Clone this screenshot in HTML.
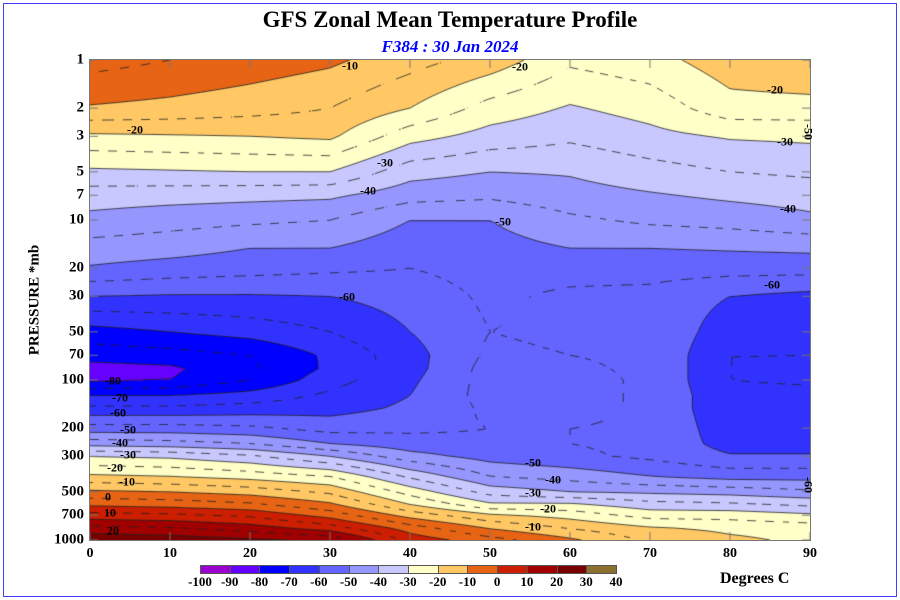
<!DOCTYPE html>
<html><head><meta charset="utf-8"><style>
body{margin:0;background:#fff;font-family:"Liberation Serif",serif}
#wrap{position:relative;width:900px;height:600px;overflow:hidden;background:#fff}
.t{position:absolute;white-space:nowrap;font-weight:bold}
.lab{position:absolute;font:bold 12px "Liberation Serif",serif;color:#000;transform:translate(-50%,-50%);white-space:nowrap}
.yl{position:absolute;font:bold 15px "Liberation Serif",serif;transform:translate(-100%,-50%);white-space:nowrap}
.xl{position:absolute;font:bold 14px "Liberation Serif",serif;transform:translateX(-50%);white-space:nowrap}
.cl{position:absolute;font:bold 13px "Liberation Serif",serif;transform:translateX(-50%);white-space:nowrap}
</style></head><body>
<div id="wrap">
<div style="position:absolute;left:3px;top:3px;width:892px;height:592px;border:1px solid #4040ff"></div>
<div class="t" style="left:0;width:900px;text-align:center;top:7px;font-size:23px">GFS Zonal Mean Temperature Profile</div>
<div class="t" style="left:0;width:900px;text-align:center;top:37px;font-size:17px;color:#0000ff;font-style:italic">F384 : 30 Jan 2024</div>
<div class="t" style="left:35px;top:300px;font-size:15px;transform:translate(-50%,-50%) rotate(-90deg)">PRESSURE *mb</div>
<canvas id="cv" width="720" height="480" style="position:absolute;left:90px;top:60px"></canvas>
<div style="position:absolute;left:89px;top:59px;width:720px;height:480px;border:1px solid #777"></div>
<div class="t" style="left:720px;top:570px;font-size:16px">Degrees C</div>
</div>
<script>
const lats=[0,10,20,30,40,50,60,70,80,90];
const levels=[1,2,3,5,7,10,15,20,30,50,70,85,100,125,150,200,250,300,400,500,600,700,850,1000];
const temps=[
[-3,-5,-7,-9,-13,-17,-24,-22,-17,-15],
[-10.5,-11.5,-13,-15,-20,-27,-30.5,-28,-22,-22],
[-21,-20.5,-20,-19,-28,-32,-34,-31.5,-29.5,-29],
[-31,-30.5,-30,-30,-38,-40,-39.5,-37,-35,-34],
[-37.5,-38,-38.5,-39,-43,-44,-42,-40.5,-39,-38],
[-41.5,-43,-44,-45,-50,-50,-46,-44,-43,-41],
[-47,-48,-50,-50,-53,-52,-50,-50,-49.5,-49],
[-50.5,-52,-53,-54,-55,-53,-53,-53,-53,-53],
[-60,-60.5,-60.5,-60,-58,-54,-56,-56.5,-60,-61.5],
[-72,-70,-68,-65,-60,-55,-56,-55.5,-63,-64],
[-78,-77,-75,-69,-62,-54,-55,-55.5,-65,-65],
[-82,-81,-76,-69,-62,-53,-54.5,-55.5,-65,-65.5],
[-81,-80,-75,-67,-61,-53,-54,-55.5,-65,-65.5],
[-70,-70,-68,-64,-60,-53,-54,-55.5,-64,-64],
[-64,-64,-63,-62,-59,-54,-54,-55.5,-64,-63],
[-53,-53,-54,-57,-56,-55,-55,-55.5,-63,-63],
[-42,-43,-45,-50,-53,-54,-55,-56,-62,-62],
[-30,-31,-34,-40,-48,-52,-54,-56,-59.5,-59.5],
[-19,-20,-22,-25,-36,-45,-47,-50,-52,-52],
[-9,-10,-12,-16,-27,-37,-40,-41,-42,-44],
[-1,-2,-4,-9,-20,-29,-29,-33,-34,-36],
[7,6,4,-2,-12,-19,-22,-27,-27,-29],
[17,16,13,8,-2,-10,-15,-19,-21,-22],
[24,23,21,19,3,-3,-9,-16,-19,-21]];
const bandColors=['#9a00d0','#6600ff','#0000ff','#3232ff','#6464ff','#9696ff','#c8c8ff','#ffffc8','#ffc864','#e66414','#cc1e00','#a00000','#780000','#8c7030'];
const cbTicks=[-100,-90,-80,-70,-60,-50,-40,-30,-20,-10,0,10,20,30,40];
const yTicks=[1,2,3,5,7,10,20,30,50,70,100,200,300,500,700,1000];
const xTicks=[0,10,20,30,40,50,60,70,80,90];
const contourLabels=[['-10',350,66],['-20',520,67],['-20',775,90],['-20',135,130],['-30',385,163],['-30',785,142],['-40',368,191],['-40',788,209],['-50',503,222],['-60',347,297],['-60',772,285],['-80',113,381],['-70',120,398],['-60',118,413],['-50',128,430],['-40',120,443],['-30',128,455],['-20',115,468],['-10',127,482],['0',108,497],['10',110,513],['20',113,531],['-50',533,463],['-40',553,480],['-30',533,493],['-20',548,509],['-10',533,527]];

const X0=90,Y0=60,W=720,H=480;
function xOf(lat){return X0+lat/90*W;}
function yOf(p){return Y0+Math.log10(p)/3*H;}
const lpv=levels.map(p=>Math.log10(p));
function T(lat,lp){
  let fi=lat/10; let i=Math.min(Math.floor(fi),lats.length-2); let fx=fi-i;
  let k=0; while(k<lpv.length-2&&lp>lpv[k+1])k++;
  let fy=(lp-lpv[k])/(lpv[k+1]-lpv[k]); fy=Math.max(0,Math.min(1,fy));
  const a=temps[k][i],b=temps[k][i+1],c=temps[k+1][i],d=temps[k+1][i+1];
  return (a*(1-fx)+b*fx)*(1-fy)+(c*(1-fx)+d*fx)*fy;
}
function hex(h){return [parseInt(h.substr(1,2),16),parseInt(h.substr(3,2),16),parseInt(h.substr(5,2),16)];}
const rgb=bandColors.map(hex);
const cv=document.getElementById('cv');const ctx=cv.getContext('2d');
const img=ctx.createImageData(W,H);
for(let py=0;py<H;py++){const lp=(py+0.5)/H*3;
 for(let px=0;px<W;px++){const t=T((px+0.5)/W*90,lp);
  let b=Math.floor((t+100)/10);b=Math.max(0,Math.min(13,b));
  const o=(py*W+px)*4;img.data[o]=rgb[b][0];img.data[o+1]=rgb[b][1];img.data[o+2]=rgb[b][2];img.data[o+3]=255;}}
ctx.putImageData(img,0,0);
const S=3,NX=W/S,NY=H/S;const G=[];
for(let j=0;j<=NY;j++){G[j]=[];for(let i=0;i<=NX;i++)G[j][i]=T(Math.min(i*S,W)/W*90,Math.min(j*S,H)/H*3);}
ctx.strokeStyle='#222';ctx.lineWidth=0.8;
for(let L=-95;L<=35;L+=5){
 const solid=(L%10===0);ctx.beginPath();
 for(let j=0;j<NY;j++)for(let i=0;i<NX;i++){
  if(!solid&&(Math.floor((i+j)/3)%2===1))continue;
  const v=[G[j][i],G[j][i+1],G[j+1][i+1],G[j+1][i]];
  const P=[[i*S,j*S],[(i+1)*S,j*S],[(i+1)*S,(j+1)*S],[i*S,(j+1)*S]];
  const pts=[];
  for(let e=0;e<4;e++){const a=v[e],b=v[(e+1)%4];
   if((a<L)!==(b<L)){const f=(L-a)/(b-a);pts.push([P[e][0]+(P[(e+1)%4][0]-P[e][0])*f,P[e][1]+(P[(e+1)%4][1]-P[e][1])*f]);}}
  for(let q=0;q+1<pts.length;q+=2){ctx.moveTo(pts[q][0],pts[q][1]);ctx.lineTo(pts[q+1][0],pts[q+1][1]);}
 }
 ctx.stroke();
}
ctx.strokeStyle='#777';ctx.lineWidth=1;ctx.beginPath();
xTicks.forEach(l=>{const x=xOf(l)-X0;ctx.moveTo(x,0);ctx.lineTo(x,8);ctx.moveTo(x,H);ctx.lineTo(x,H-8);});
yTicks.forEach(p=>{const y=yOf(p)-Y0;ctx.moveTo(0,y);ctx.lineTo(8,y);ctx.moveTo(W,y);ctx.lineTo(W-8,y);});
ctx.stroke();
const wrap=document.getElementById('wrap');
yTicks.forEach(p=>{const d=document.createElement('div');d.className='yl';


d.style.left='84px';d.style.top=yOf(p)+'px';d.textContent=p;wrap.appendChild(d);});
xTicks.forEach(l=>{const d=document.createElement('div');d.className='xl';


d.style.left=xOf(l)+'px';d.style.top='546px';d.textContent=l;wrap.appendChild(d);});
contourLabels.forEach(c=>{const d=document.createElement('div');d.className='lab';


d.style.left=c[1]+'px';d.style.top=c[2]+'px';d.textContent=c[0];wrap.appendChild(d);});
[['-50',808,132],['-60',808,485]].forEach(c=>{const d=document.createElement('div');d.className='lab';


d.style.left=c[1]+'px';d.style.top=c[2]+'px';d.style.transform='translate(-50%,-50%) rotate(90deg)';d.textContent=c[0];wrap.appendChild(d);});
const CB0=200,CBW=416/14;
bandColors.forEach((col,k)=>{const d=document.createElement('div');


d.style.cssText='position:absolute;top:565px;height:9px;border:1px solid #555;box-sizing:border-box;left:'+(CB0+k*CBW)+'px;width:'+(CBW+1)+'px;background:'+col;wrap.appendChild(d);});
cbTicks.forEach((v,k)=>{const d=document.createElement('div');d.className='cl';


d.style.left=(CB0+k*CBW)+'px';d.style.top='574px';d.textContent=v;wrap.appendChild(d);});
</script>
</body></html>
